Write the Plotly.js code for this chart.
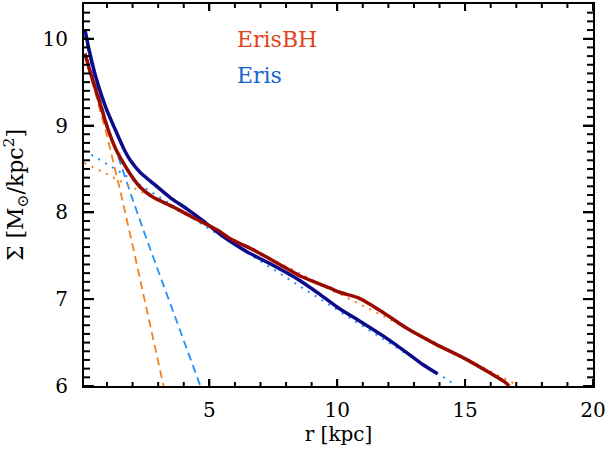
<!DOCTYPE html>
<html>
<head>
<meta charset="utf-8">
<script src="https://cdn.plot.ly/plotly-3.0.1.min.js"></script>
<style>html,body{margin:0;padding:0;background:#fff}#chart{width:608px;height:457px}</style>
</head>
<body>
<div id="chart"></div>
<script>
// ErisBH total profile
const rErisBH = [0.14, 0.36, 0.69, 1.01, 1.34, 1.52, 1.91, 2.30, 2.82, 3.47, 4.12, 4.77, 5.41, 5.80, 6.84, 7.75, 8.53, 9.70, 10.09, 10.87, 11.78, 12.69, 13.86, 15.03, 16.58, 16.72];
const sErisBH = [9.83, 9.60, 9.29, 8.98, 8.73, 8.63, 8.44, 8.29, 8.17, 8.08, 7.98, 7.88, 7.78, 7.70, 7.55, 7.40, 7.27, 7.13, 7.08, 7.01, 6.85, 6.67, 6.48, 6.31, 6.04, 6.00];
// Eris total profile
const rEris = [0.14, 0.30, 0.56, 0.95, 1.34, 1.66, 1.91, 2.30, 2.82, 3.47, 4.12, 4.77, 5.41, 5.80, 6.45, 7.49, 8.40, 9.44, 10.09, 10.87, 11.78, 12.69, 13.33, 13.92];
const sEris = [10.10, 9.87, 9.56, 9.21, 8.94, 8.73, 8.60, 8.46, 8.33, 8.17, 8.04, 7.90, 7.75, 7.67, 7.55, 7.39, 7.24, 7.03, 6.89, 6.75, 6.58, 6.39, 6.25, 6.14];
// bulge fits (dashed)
const rBulgeBH = [0.1, 0.5, 1.0, 1.5, 2.0, 2.5, 3.0, 3.3];
const sBulgeBH = [9.82, 9.42, 8.88, 8.27, 7.62, 6.95, 6.28, 5.88];
const rBulge = [0.1, 0.5, 1.0, 1.5, 2.0, 2.5, 3.0, 3.5, 4.0, 4.5, 4.75];
const sBulge = [10.08, 9.55, 9.02, 8.58, 8.15, 7.73, 7.33, 6.93, 6.52, 6.13, 5.92];
// disc fits (dotted)
const rDiscBH = [0.12, 1.26, 10.09, 11.78, 16.97];
const sDiscBH = [8.57, 8.40, 7.06, 6.81, 6.02];
const rDisc = [0.12, 1.26, 10.09, 14.64];
const sDisc = [8.71, 8.51, 6.86, 6.01];
// labels
const labels = ["ErisBH", "Eris"];
// tick positions
const xMajorTicks = [5, 10, 15, 20];
const xMinorTicks = [1, 2, 3, 4, 6, 7, 8, 9, 11, 12, 13, 14, 16, 17, 18, 19];
const yMajorTicks = [6, 7, 8, 9, 10];
const yMinorTicks = [6.1, 6.2, 6.3, 6.4, 6.5, 6.6, 6.7, 6.8, 6.9, 7.1, 7.2, 7.3, 7.4, 7.5, 7.6, 7.7, 7.8, 7.9,
  8.1, 8.2, 8.3, 8.4, 8.5, 8.6, 8.7, 8.8, 8.9, 9.1, 9.2, 9.3, 9.4, 9.5, 9.6, 9.7, 9.8, 9.9, 10.1, 10.2, 10.3];

const cBH = "#9a0a00", cE = "#0c0c8a", cBHlight = "#f5801e", cElight = "#1e90ff";
const xr = [0.1, 20], yr = [6, 10.4];
const W = 608, H = 457, M = {l: 84, r: 15, t: 4, b: 71};
const plotW = W - M.l - M.r, plotH = H - M.t - M.b;

const traces = [
  {x: rBulgeBH, y: sBulgeBH, mode: "lines", line: {color: cBHlight, width: 1.8, dash: "8px,5px"}},
  {x: rBulge, y: sBulge, mode: "lines", line: {color: cElight, width: 1.8, dash: "8px,5px"}},
  {x: rDiscBH, y: sDiscBH, mode: "lines", line: {color: cBHlight, width: 2, dash: "2px,6px"}},
  {x: rDisc, y: sDisc, mode: "lines", line: {color: cElight, width: 2, dash: "2px,6px"}},
  {x: rEris, y: sEris, mode: "lines", line: {color: cE, width: 3.5, shape: "spline", smoothing: 0.6}},
  {x: rErisBH, y: sErisBH, mode: "lines", line: {color: cBH, width: 3.5, shape: "spline", smoothing: 0.6}}
];

// tick marks on all four sides (inside), placed through the axis scales
const shapes = [];
const tl = {color: "#000", width: 2};
function xTicks(vals, len) {
  const f = len / plotH;
  vals.forEach(function (v) {
    shapes.push({type: "line", xref: "x", yref: "paper", x0: v, x1: v, y0: 0, y1: f, line: tl, layer: "above"});
    shapes.push({type: "line", xref: "x", yref: "paper", x0: v, x1: v, y0: 1, y1: 1 - f, line: tl, layer: "above"});
  });
}
function yTicks(vals, len) {
  const f = len / plotW;
  vals.forEach(function (v) {
    shapes.push({type: "line", xref: "paper", yref: "y", x0: 0, x1: f, y0: v, y1: v, line: tl, layer: "above"});
    shapes.push({type: "line", xref: "paper", yref: "y", x0: 1, x1: 1 - f, y0: v, y1: v, line: tl, layer: "above"});
  });
}
xTicks(xMajorTicks, 7);
xTicks(xMinorTicks, 4);
yTicks(yMajorTicks, 10);
yTicks(yMinorTicks, 6);

const font = {family: "DejaVu Serif", size: 20, color: "#000"};
const layout = {
  width: W, height: H,
  margin: {l: M.l, r: M.r, t: M.t, b: M.b, pad: 0},
  showlegend: false,
  paper_bgcolor: "#fff", plot_bgcolor: "#fff",
  font: font,
  xaxis: {
    range: xr, tickmode: "array", tickvals: xMajorTicks, ticktext: xMajorTicks.map(String),
    ticks: "inside", ticklen: 7, tickwidth: 2, tickcolor: "#000",
    ticklabelstandoff: 5,
    showline: true, linewidth: 2, linecolor: "#000", mirror: "ticks", showgrid: false, zeroline: false,
    tickfont: font,
    title: {text: "r [kpc]", font: font, standoff: 6}
  },
  yaxis: {
    range: yr, tickmode: "array", tickvals: yMajorTicks, ticktext: yMajorTicks.map(String),
    ticks: "inside", ticklen: 10, tickwidth: 2, tickcolor: "#000",
    ticklabelstandoff: 10,
    showline: true, linewidth: 2, linecolor: "#000", mirror: "ticks", showgrid: false, zeroline: false,
    tickfont: font,
    title: {text: "Σ [M<sub>⊙</sub>/kpc<sup>2</sup>]", font: {family: "DejaVu Serif", size: 22, color: "#000"}, standoff: 14}
  },
  shapes: shapes,
  annotations: [
    {xref: "paper", yref: "paper", x: 0.297, y: 0.906, xanchor: "left", yanchor: "middle", text: labels[0], showarrow: false, font: {family: "DejaVu Serif", size: 22, color: "#e0441a"}},
    {xref: "paper", yref: "paper", x: 0.297, y: 0.814, xanchor: "left", yanchor: "middle", text: labels[1], showarrow: false, font: {family: "DejaVu Serif", size: 22, color: "#1464d2"}}
  ]
};
Plotly.newPlot("chart", traces, layout, {staticPlot: true, displayModeBar: false});
</script>
</body>
</html>
